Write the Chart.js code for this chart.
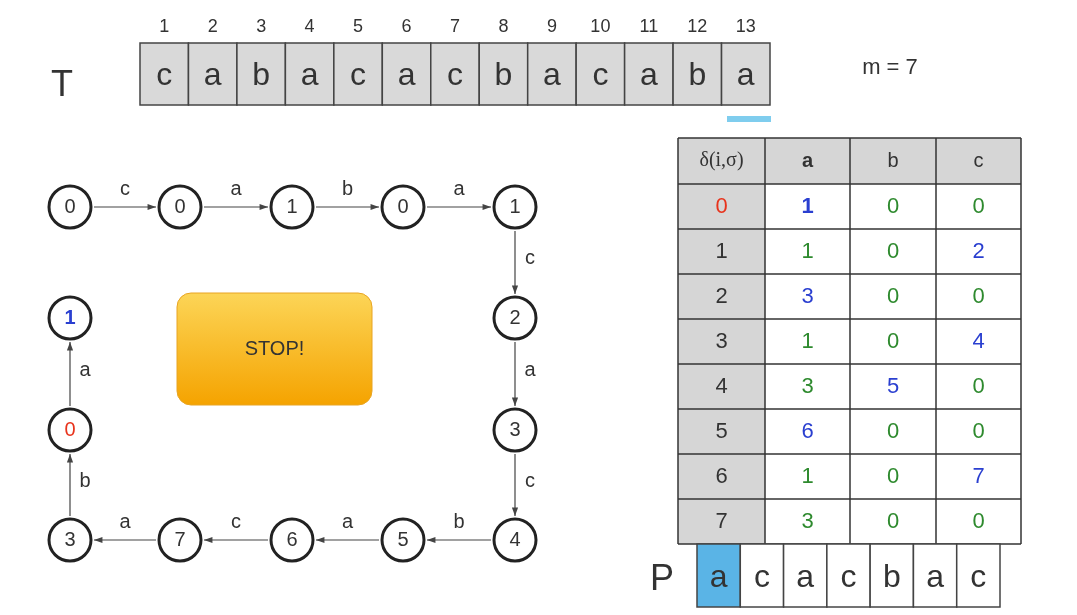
<!DOCTYPE html>
<html>
<head>
<meta charset="utf-8">
<script src="https://cdn.jsdelivr.net/npm/chart.js@4"></script>
<style>
  body { margin: 0; background: #fff; }
  canvas { display: block; }
</style>
</head>
<body>
<canvas id="c" width="1077" height="615"></canvas>
<script>
const TEXT = ["c", "a", "b", "a", "c", "a", "c", "b", "a", "c", "a", "b", "a"];
const PATTERN = ["a", "c", "a", "c", "b", "a", "c"];
const ALPHABET = ["a", "b", "c"];
const DELTA = [
    [1, 0, 0],
    [1, 0, 2],
    [3, 0, 0],
    [1, 0, 4],
    [3, 5, 0],
    [6, 0, 0],
    [1, 0, 7],
    [3, 0, 0],
];
// states visited while scanning the text, in the order drawn on the path
const STATES = [0, 0, 1, 0, 1, 2, 3, 4, 5, 6, 7, 3, 0, 1];
const STATE_X = [70, 180, 292, 403, 515, 515, 515, 515, 403, 292, 180, 70, 70, 70];
const STATE_Y = [207, 207, 207, 207, 207, 318, 430, 540, 540, 540, 540, 540, 430, 318];
const EDGE_LABELS = ["c", "a", "b", "a", "c", "a", "c", "b", "a", "c", "a", "b", "a"];

const FONT = "'Liberation Sans', Arial, sans-serif";
const GREEN = "#2e8a2e";
const BLUE = "#2a3fd0";
const RED = "#e8331c";

function stateColor(i) {
    if (i === 12) return RED;
    if (i === 13) return BLUE;
    return "#333";
}

const diagramPlugin = {
    id: "diagram",
    beforeDatasetsDraw(chart) {
        const { ctx, scales } = chart;
        const px = (v) => scales.x.getPixelForValue(v);
        const py = (v) => scales.y.getPixelForValue(v);
        ctx.save();

        // text row
        const cw = (770 - 140) / TEXT.length;
        ctx.textAlign = "center";
        ctx.textBaseline = "middle";
        TEXT.forEach((ch, i) => {
            const x0 = px(140 + i * cw);
            ctx.fillStyle = "#d9d9d9";
            ctx.fillRect(x0, py(43), cw, py(105) - py(43));
            ctx.strokeStyle = "#444";
            ctx.lineWidth = 1.5;
            ctx.strokeRect(x0, py(43), cw, py(105) - py(43));
            ctx.fillStyle = "#333";
            ctx.font = "32px " + FONT;
            ctx.fillText(ch, x0 + cw / 2, py(76));
            ctx.font = "18px " + FONT;
            ctx.fillText(String(i + 1), x0 + cw / 2, py(27));
        });
        ctx.fillStyle = "#7fcdee";
        ctx.fillRect(px(727), py(116), 44, 6);
        ctx.fillStyle = "#333";
        ctx.font = "36px " + FONT;
        ctx.fillText("T", px(62), py(86));
        ctx.font = "22px " + FONT;
        ctx.fillText("m = 7", px(890), py(68));

        // arrows
        const r = 24;
        ctx.strokeStyle = "#444";
        ctx.fillStyle = "#444";
        ctx.lineWidth = 1.2;
        for (let i = 0; i < STATES.length - 1; i++) {
            const x1 = px(STATE_X[i]), y1 = py(STATE_Y[i]);
            const x2 = px(STATE_X[i + 1]), y2 = py(STATE_Y[i + 1]);
            const a = Math.atan2(y2 - y1, x2 - x1);
            const sx = x1 + r * Math.cos(a), sy = y1 + r * Math.sin(a);
            const ex = x2 - r * Math.cos(a), ey = y2 - r * Math.sin(a);
            ctx.beginPath();
            ctx.moveTo(sx, sy);
            ctx.lineTo(ex, ey);
            ctx.stroke();
            ctx.beginPath();
            ctx.moveTo(ex, ey);
            ctx.lineTo(ex - 9 * Math.cos(a - 0.35), ey - 9 * Math.sin(a - 0.35));
            ctx.lineTo(ex - 9 * Math.cos(a + 0.35), ey - 9 * Math.sin(a + 0.35));
            ctx.closePath();
            ctx.fill();
            const mx = (x1 + x2) / 2, my = (y1 + y2) / 2;
            const horizontal = Math.abs(y2 - y1) < 1;
            ctx.font = "20px " + FONT;
            ctx.fillStyle = "#333";
            if (horizontal) ctx.fillText(EDGE_LABELS[i], mx, my - 18);
            else ctx.fillText(EDGE_LABELS[i], mx + 15, my - 4);
            ctx.fillStyle = "#444";
        }

        // STOP box
        const bx = px(177), by = py(293), bw = 195, bh = 112;
        const g = ctx.createLinearGradient(0, by, 0, by + bh);
        g.addColorStop(0, "#fcd557");
        g.addColorStop(1, "#f5a300");
        ctx.fillStyle = g;
        ctx.beginPath();
        ctx.roundRect(bx, by, bw, bh, 14);
        ctx.fill();
        ctx.strokeStyle = "#e8a422";
        ctx.lineWidth = 1;
        ctx.stroke();
        ctx.fillStyle = "#333";
        ctx.font = "20px " + FONT;
        ctx.fillText("STOP!", bx + bw / 2, by + bh / 2);

        // transition table
        const colX = [678, 765, 850, 936, 1021];
        const rowY = [138, 184, 229, 274, 319, 364, 409, 454, 499, 544];
        ctx.fillStyle = "#d6d6d6";
        ctx.fillRect(px(678), py(138), px(1021) - px(678), py(184) - py(138));
        ctx.fillRect(px(678), py(138), px(765) - px(678), py(544) - py(138));
        ctx.strokeStyle = "#333";
        ctx.lineWidth = 1.5;
        colX.forEach((x) => { ctx.beginPath(); ctx.moveTo(px(x), py(138)); ctx.lineTo(px(x), py(544)); ctx.stroke(); });
        rowY.forEach((y) => { ctx.beginPath(); ctx.moveTo(px(678), py(y)); ctx.lineTo(px(1021), py(y)); ctx.stroke(); });
        const cx = (j) => (px(colX[j]) + px(colX[j + 1])) / 2;
        const cy = (k) => (py(rowY[k]) + py(rowY[k + 1])) / 2;
        ctx.fillStyle = "#333";
        ctx.font = "20px 'Liberation Serif', 'Times New Roman', serif";
        ctx.fillText("δ(i,σ)", cx(0), cy(0));
        ALPHABET.forEach((s, j) => {
            ctx.font = (j === 0 ? "bold " : "") + "20px " + FONT;
            ctx.fillText(s, cx(j + 1), cy(0));
        });
        DELTA.forEach((row, i) => {
            ctx.font = "22px " + FONT;
            ctx.fillStyle = i === 0 ? RED : "#333";
            ctx.fillText(String(i), cx(0), cy(i + 1));
            row.forEach((v, j) => {
                ctx.font = (i === 0 && j === 0 ? "bold " : "") + "22px " + FONT;
                ctx.fillStyle = v === i + 1 ? BLUE : GREEN;
                ctx.fillText(String(v), cx(j + 1), cy(i + 1));
            });
        });

        // pattern row
        const pw = (1000 - 697) / PATTERN.length;
        PATTERN.forEach((ch, i) => {
            const x0 = px(697 + i * pw);
            ctx.fillStyle = i === 0 ? "#5ab4e6" : "#fff";
            ctx.fillRect(x0, py(544), pw, py(607) - py(544));
            ctx.strokeStyle = "#444";
            ctx.lineWidth = 1.5;
            ctx.strokeRect(x0, py(544), pw, py(607) - py(544));
            ctx.fillStyle = "#333";
            ctx.font = "32px " + FONT;
            ctx.fillText(ch, x0 + pw / 2, py(578));
        });
        ctx.font = "36px " + FONT;
        ctx.fillText("P", px(662), py(580));
        ctx.restore();
    },
    afterDatasetsDraw(chart) {
        const { ctx, scales } = chart;
        ctx.save();
        ctx.textAlign = "center";
        ctx.textBaseline = "middle";
        STATES.forEach((s, i) => {
            ctx.font = (i === 13 ? "bold " : "") + "20px " + FONT;
            ctx.fillStyle = stateColor(i);
            ctx.fillText(String(s), scales.x.getPixelForValue(STATE_X[i]), scales.y.getPixelForValue(STATE_Y[i]));
        });
        ctx.restore();
    },
};

new Chart(document.getElementById("c"), {
    type: "scatter",
    data: {
        datasets: [{
            data: STATES.map((s, i) => ({ x: STATE_X[i], y: STATE_Y[i] })),
            pointRadius: 21,
            pointBorderWidth: 3,
            pointBackgroundColor: "#fff",
            pointBorderColor: "#222",
        }],
    },
    options: {
        responsive: false,
        animation: false,
        layout: { padding: 0, autoPadding: false },
        plugins: { legend: { display: false }, tooltip: { enabled: false } },
        scales: {
            x: { type: "linear", min: 0, max: 1077, display: false },
            y: { type: "linear", min: 0, max: 615, reverse: true, display: false },
        },
    },
    plugins: [diagramPlugin],
});
</script>
</body>
</html>
